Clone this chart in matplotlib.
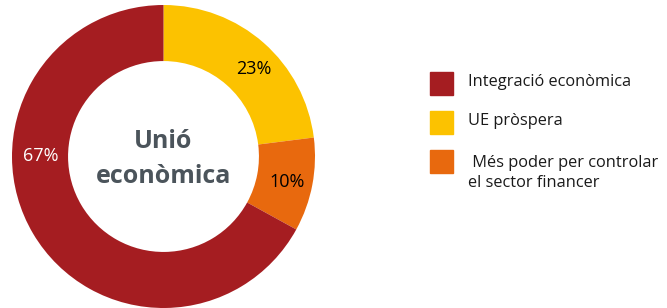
import matplotlib
matplotlib.use("Agg")
import matplotlib.pyplot as plt
from matplotlib.patches import Rectangle
import numpy as np

plt.rcParams["font.family"] = ["Open Sans", "DejaVu Sans"]

categories = ["UE pròspera", "Més poder per controlar\nel sector financer", "Integració econòmica"]
values = [23, 10, 67]
colors = ["#FCC200", "#E8690E", "#A51D21"]
label_colors = ["black", "black", "white"]
# label placement (angle in degrees, radius)
label_pos = [(44, 0.83), (-11.5, 0.83), (180, 0.81)]

legend_labels = ["Integració econòmica", "UE pròspera", " Més poder per controlar\nel sector financer"]
legend_colors = ["#A51D21", "#FCC200", "#E8690E"]

W, H = 667, 308
fig = plt.figure(figsize=(W / 100, H / 100), dpi=100)

# donut axes: centre (163.5, 156.5) px, radius 151.5 px
r_px = 151.5
ax = fig.add_axes([(163.5 - r_px) / W, (H - 156.5 - r_px) / H, 2 * r_px / W, 2 * r_px / H])
ax.pie(values, colors=colors, startangle=90, counterclock=False, radius=1,
       wedgeprops=dict(width=0.37, edgecolor="none"))
ax.set_xlim(-1, 1)
ax.set_ylim(-1, 1)
ax.set_aspect("equal")
ax.axis("off")

for v, (ang, r), c in zip(values, label_pos, label_colors):
    a = np.radians(ang)
    ax.text(r * np.cos(a), r * np.sin(a), f"{v}%", ha="center", va="center",
            fontsize=13, color=c)

ax.text(0, -0.015, "Unió\neconòmica", ha="center", va="center", fontsize=18,
        fontweight="bold", color="#4B545B", linespacing=1.5)

# legend drawn in figure pixel coordinates
tops = [72, 111, 150]
text_y = [82, 121, 173]
text_x = [468, 468, 468]
for t, ty, tx, lab, col in zip(tops, text_y, text_x, legend_labels, legend_colors):
    fig.patches.append(Rectangle((430 / W, (H - t - 23) / H), 23 / W, 23 / H,
                                 transform=fig.transFigure, color=col))
    fig.text(tx / W, (H - ty) / H, lab, ha="left", va="center", fontsize=11.8,
             color="#1a1a1a", linespacing=1.4)

fig.savefig("out.png", dpi=100)
